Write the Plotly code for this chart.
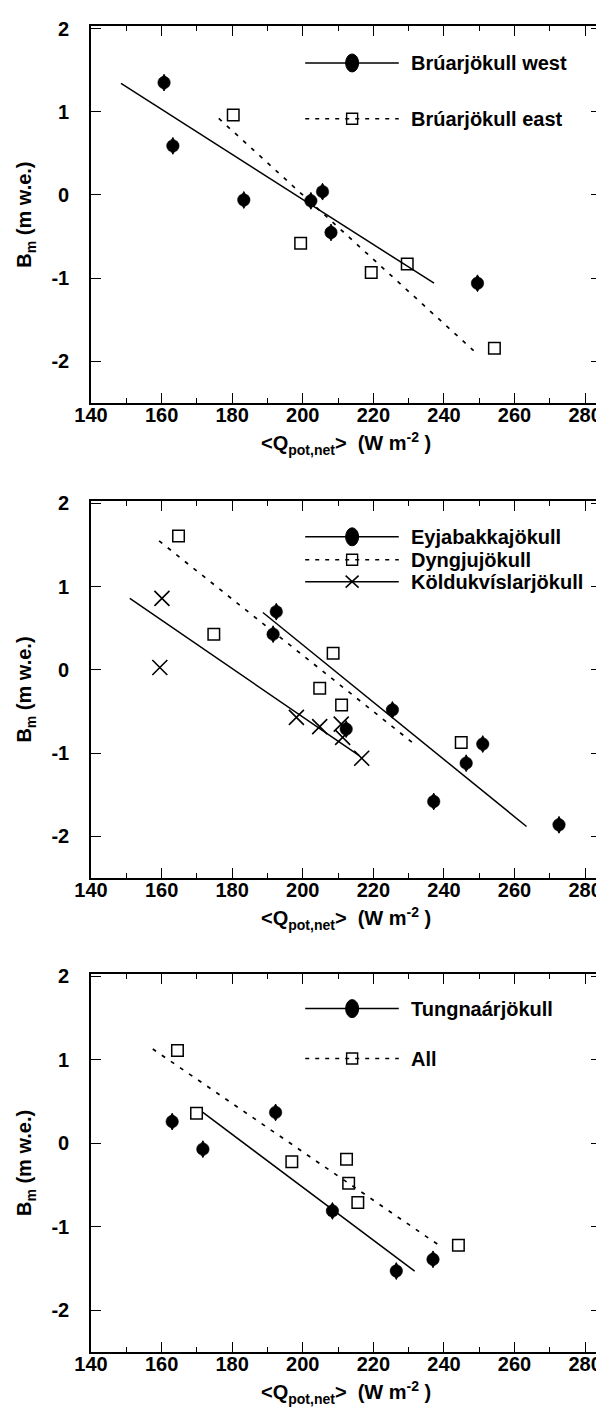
import plotly.graph_objects as go

# ---------------- data ----------------
x_ticks = [140, 160, 180, 200, 220, 240, 260, 280]
x_labels = ["140", "160", "180", "200", "220", "240", "260", "280"]
y_ticks = [-2, -1, 0, 1, 2]
y_labels = ["-2", "-1", "0", "1", "2"]

# Panel 1
bw_q = [160.7, 163.2, 183.3, 202.3, 205.6, 208.0, 249.5]
bw_b = [1.35, 0.59, -0.06, -0.07, 0.04, -0.45, -1.06]
bw_fit_q = [148.5, 237.2]
bw_fit_b = [1.34, -1.06]
be_q = [180.3, 199.4, 219.4, 229.6, 254.3]
be_b = [0.96, -0.58, -0.93, -0.83, -1.84]
be_fit_q = [176.2, 248.4]
be_fit_b = [0.92, -1.87]

# Panel 2
ey_q = [192.5, 191.6, 212.3, 225.4, 237.1, 246.3, 251.0, 272.6]
ey_b = [0.70, 0.43, -0.71, -0.48, -1.58, -1.12, -0.89, -1.86]
ey_fit_q = [188.7, 263.4]
ey_fit_b = [0.69, -1.88]
dy_q = [164.8, 174.8, 208.6, 204.8, 211.0, 244.9]
dy_b = [1.61, 0.43, 0.20, -0.22, -0.42, -0.87]
dy_fit_q = [159.3, 231.3]
dy_fit_b = [1.55, -0.88]
ko_q = [160.1, 159.5, 198.2, 204.8, 210.9, 211.3, 216.7]
ko_b = [0.86, 0.03, -0.57, -0.68, -0.65, -0.81, -1.06]
ko_fit_q = [151.0, 216.0]
ko_fit_b = [0.86, -1.03]

# Panel 3
tu_q = [163.0, 171.7, 192.3, 208.4, 226.5, 236.9]
tu_b = [0.26, -0.07, 0.37, -0.81, -1.53, -1.39]
tu_fit_q = [171.7, 231.7]
tu_fit_b = [0.37, -1.53]
al_q = [164.5, 169.9, 196.9, 212.4, 213.0, 215.6, 244.1]
al_b = [1.11, 0.36, -0.22, -0.19, -0.48, -0.71, -1.22]
al_fit_q = [157.5, 238.9]
al_fit_b = [1.13, -1.23]

# ---------------- styling ----------------
FONT = "Liberation Sans, Arial, Helvetica, sans-serif"
W, H = 604, 1409
ML, MR, MT, MB = 83, 9, 15, 65
DOMAINS = [[0.7156, 1.0], [0.3574, 0.6418], [0.0, 0.2852]]

FILLED_BODY = dict(symbol="circle", size=12.5, color="black",
                   line=dict(color="black", width=0.5))
FILLED_TIPS = dict(symbol="diamond-tall", size=12, color="black",
                   line=dict(color="black", width=1))
SQUARE = dict(symbol="square-open", size=11.5, color="black",
              line=dict(color="black", width=1.5))
CROSS = dict(symbol="x-thin-open", size=15, color="black",
             line=dict(color="black", width=1.6))
SOLID = dict(color="black", width=1.5)
DOTTED = dict(color="black", width=1.7, dash="4px,7px")

TXT = dict(size=20, color="black", family=FONT, weight="bold")

fig = go.Figure()


def axes_of(i):
    return ("x" if i == 1 else f"x{i}", "y" if i == 1 else f"y{i}")


def add_series(i, q, b, marker):
    xa, ya = axes_of(i)
    fig.add_trace(go.Scatter(x=q, y=b, mode="markers", marker=marker,
                             xaxis=xa, yaxis=ya, showlegend=False,
                             hoverinfo="x+y"))


def add_filled(i, q, b):
    add_series(i, q, b, FILLED_BODY)
    add_series(i, q, b, FILLED_TIPS)


def add_fit(i, q, b, line):
    xa, ya = axes_of(i)
    fig.add_trace(go.Scatter(x=q, y=b, mode="lines", line=line,
                             xaxis=xa, yaxis=ya, showlegend=False,
                             hoverinfo="skip"))


add_fit(1, bw_fit_q, bw_fit_b, SOLID)
add_fit(1, be_fit_q, be_fit_b, DOTTED)
add_filled(1, bw_q, bw_b)
add_series(1, be_q, be_b, SQUARE)

add_fit(2, ey_fit_q, ey_fit_b, SOLID)
add_fit(2, dy_fit_q, dy_fit_b, DOTTED)
add_fit(2, ko_fit_q, ko_fit_b, SOLID)
add_filled(2, ey_q, ey_b)
add_series(2, dy_q, dy_b, SQUARE)
add_series(2, ko_q, ko_b, CROSS)

add_fit(3, tu_fit_q, tu_fit_b, SOLID)
add_fit(3, al_fit_q, al_fit_b, DOTTED)
add_filled(3, tu_q, tu_b)
add_series(3, al_q, al_b, SQUARE)

xtitle = "&lt;Q<sub>pot,net</sub>&gt;  (W m<sup>-2</sup> )"
ytitle = "B<sub>m</sub> (m w.e.)"

layout_axes = {}
for i in range(1, 4):
    xk = "xaxis" if i == 1 else f"xaxis{i}"
    yk = "yaxis" if i == 1 else f"yaxis{i}"
    xa, ya = axes_of(i)
    layout_axes[xk] = dict(
        domain=[0, 1], anchor=ya,
        range=[140, 284.5], tickmode="array", tickvals=x_ticks, ticktext=x_labels,
        ticks="inside", ticklen=10, tickwidth=1.4, tickcolor="black",
        minor=dict(tickmode="linear", tick0=140, dtick=10, ticks="inside",
                   ticklen=5, tickwidth=1.4, tickcolor="black", showgrid=False),
        showline=True, linecolor="black", linewidth=1.6, mirror="ticks",
        showgrid=False, zeroline=False, ticklabelstandoff=-7,
        tickfont=TXT,
    )
    layout_axes[yk] = dict(
        domain=DOMAINS[i - 1], anchor=xa,
        range=[-2.5, 2.03], tickmode="array", tickvals=y_ticks, ticktext=y_labels,
        ticks="inside", ticklen=10, tickwidth=1.4, tickcolor="black",
        showline=True, linecolor="black", linewidth=1.6, mirror="ticks",
        showgrid=False, zeroline=False, ticklabelstandoff=16,
        tickfont=TXT,
        title=dict(text=ytitle, font=TXT, standoff=14),
    )

shapes, annotations = [], []

# x-axis titles, placed just under each panel
for d0, d1 in DOMAINS:
    annotations.append(dict(xref="paper", yref="paper", x=0.5, y=d0,
                            xanchor="center", yanchor="top", yshift=-24,
                            showarrow=False, text=xtitle, font=TXT))

# ---------------- hand-drawn legends ----------------
LEG_X0, LEG_X1, LEG_XM, LEG_XT = 0.420, 0.6035, 0.512, 0.623
legend_items = [
    (1, 0.902, "solid", "diamond", "Brúarjökull west"),
    (1, 0.754, "dot", "square", "Brúarjökull east"),
    (2, 0.905, "solid", "diamond", "Eyjabakkajökull"),
    (2, 0.844, "dot", "square", "Dyngjujökull"),
    (2, 0.786, "solid", "cross", "Köldukvíslarjökull"),
    (3, 0.908, "solid", "diamond", "Tungnaárjökull"),
    (3, 0.776, "dot", "square", "All"),
]
for panel, yd, lstyle, mk, label in legend_items:
    d0, d1 = DOMAINS[panel - 1]
    yp = d0 + yd * (d1 - d0)
    ln = dict(color="black", width=1.5)
    if lstyle == "dot":
        ln["dash"] = "4px,6px"
    shapes.append(dict(type="line", xref="paper", yref="paper",
                       x0=LEG_X0, x1=LEG_X1, y0=yp, y1=yp, line=ln))
    base = dict(xref="paper", yref="paper", xsizemode="pixel", ysizemode="pixel",
                xanchor=LEG_XM, yanchor=yp)
    if mk == "diamond":
        shapes.append(dict(type="circle", x0=-6.5, x1=6.5, y0=-9, y1=9,
                           fillcolor="black", line=dict(color="black", width=1), **base))
    elif mk == "square":
        shapes.append(dict(type="rect", x0=-5.5, x1=5.5, y0=-5.5, y1=5.5,
                           fillcolor="rgba(0,0,0,0)",
                           line=dict(color="black", width=1.4), **base))
    else:
        shapes.append(dict(type="line", x0=-6.5, x1=6.5, y0=-6, y1=6,
                           line=dict(color="black", width=1.5), **base))
        shapes.append(dict(type="line", x0=-6.5, x1=6.5, y0=6, y1=-6,
                           line=dict(color="black", width=1.5), **base))
    annotations.append(dict(xref="paper", yref="paper", x=LEG_XT, y=yp,
                            xanchor="left", yanchor="middle", showarrow=False,
                            text=label, font=TXT))

fig.update_layout(
    width=W, height=H,
    margin=dict(l=ML, r=MR, t=MT, b=MB),
    paper_bgcolor="white", plot_bgcolor="white",
    font=dict(family=FONT, color="black"),
    showlegend=False,
    shapes=shapes, annotations=annotations,
    **layout_axes,
)

fig.write_html("out.html")
